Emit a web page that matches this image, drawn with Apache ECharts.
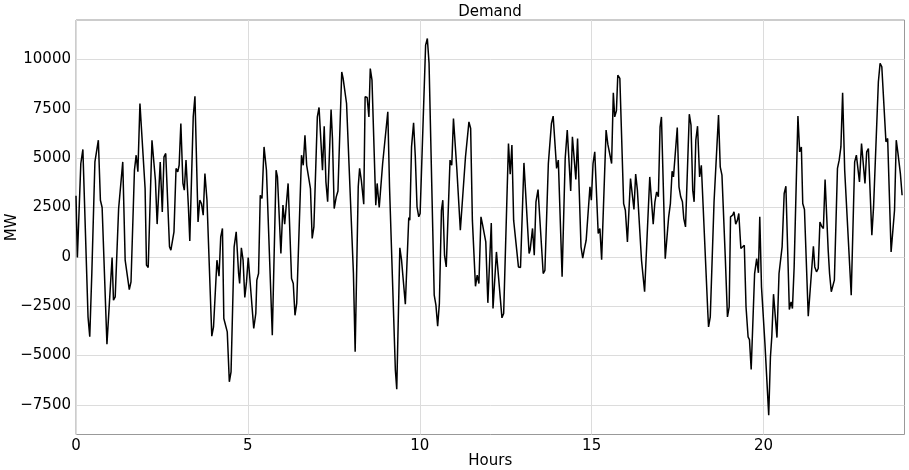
<!DOCTYPE html>
<html>
<head>
<meta charset="utf-8">
<script src="https://cdn.jsdelivr.net/npm/echarts@6/dist/echarts.min.js"></script>
<style>html,body{margin:0;padding:0;background:#fff}#c{width:909px;height:470px}</style>
</head>
<body>
<div id="c"></div>
<script>
const hours = [
0.00,0.04,0.14,0.20,0.35,0.40,0.46,0.55,0.65,0.71,
0.76,0.90,1.05,1.09,1.14,1.24,1.36,1.43,1.55,1.60,
1.70,1.75,1.80,1.86,2.01,2.05,2.10,2.21,2.31,2.36,
2.45,2.51,2.56,2.61,2.72,2.76,2.85,2.91,2.96,3.00,
3.05,3.11,3.15,3.20,3.27,3.31,3.41,3.46,3.55,3.60,
3.65,3.70,3.75,3.81,3.86,3.95,4.00,4.10,4.16,4.21,
4.26,4.30,4.35,4.40,4.46,4.51,4.60,4.66,4.73,4.76,
4.81,4.86,4.91,4.96,5.01,5.17,5.23,5.26,5.31,5.36,
5.41,5.47,5.54,5.71,5.82,5.86,5.96,6.02,6.07,6.17,
6.27,6.32,6.37,6.42,6.56,6.61,6.66,6.71,6.82,6.87,
6.92,7.02,7.07,7.17,7.22,7.27,7.32,7.42,7.46,7.51,
7.57,7.62,7.73,7.77,7.87,8.07,8.12,8.21,8.25,8.30,
8.37,8.41,8.47,8.52,8.56,8.61,8.72,8.76,8.82,8.92,
8.97,9.07,9.12,9.29,9.33,9.42,9.47,9.58,9.68,9.71,
9.76,9.82,9.87,9.92,9.97,10.01,10.17,10.22,10.27,10.42,
10.47,10.52,10.57,10.63,10.67,10.72,10.77,10.88,10.93,10.98,
11.08,11.18,11.33,11.43,11.48,11.53,11.62,11.67,11.72,11.78,
11.83,11.92,11.98,12.08,12.13,12.23,12.39,12.44,12.58,12.63,
12.68,12.73,12.78,12.87,12.93,13.03,13.08,13.18,13.21,13.28,
13.33,13.38,13.44,13.59,13.64,13.74,13.83,13.88,13.98,14.03,
14.14,14.23,14.29,14.39,14.44,14.54,14.59,14.69,14.74,14.79,
14.84,14.95,14.99,15.04,15.09,15.19,15.24,15.29,15.34,15.42,
15.47,15.52,15.58,15.63,15.67,15.72,15.76,15.82,15.93,15.98,
16.04,16.13,16.23,16.28,16.33,16.45,16.54,16.69,16.79,16.84,
16.89,16.94,16.99,17.03,17.14,17.24,17.29,17.34,17.38,17.49,
17.54,17.59,17.64,17.68,17.73,17.84,17.89,17.94,17.98,18.03,
18.08,18.14,18.19,18.38,18.40,18.45,18.56,18.69,18.74,18.79,
18.89,18.95,19.00,19.04,19.10,19.14,19.19,19.24,19.28,19.34,
19.39,19.44,19.49,19.55,19.59,19.64,19.74,19.80,19.85,19.89,
19.94,20.04,20.15,20.20,20.24,20.29,20.39,20.45,20.54,20.60,
20.65,20.75,20.80,20.84,20.89,21.00,21.05,21.10,21.14,21.19,
21.30,21.35,21.45,21.49,21.54,21.59,21.64,21.69,21.74,21.79,
21.88,21.92,21.97,22.01,22.06,22.15,22.20,22.25,22.30,22.36,
22.55,22.65,22.70,22.74,22.79,22.85,22.95,23.00,23.05,23.15,
23.20,23.25,23.34,23.39,23.44,23.56,23.61,23.71,23.81,23.86,
23.91,23.98,24.03
];
const demand = [
3100,-30,4730,5440,-3040,-4050,-845,4810,5910,2870,
2500,-4430,-30,-2200,-2030,2450,4810,-170,-1660,-1270,
4390,5150,4310,7770,3460,-420,-540,5910,3880,1660,
4810,2280,5070,5240,510,340,1270,4480,4310,4640,
6760,3720,3380,4900,2530,810,7090,8140,1770,2870,
2700,2110,4220,2870,2790,-4020,-3550,-170,-980,1010,
1440,-3120,-3180,-3800,-6330,-5830,510,1270,-845,-1350,
460,-170,-2060,-1270,-30,-3630,-2870,-1180,-845,3120,
2960,5570,4390,-3970,4390,4050,170,2620,1660,3720,
-1100,-1350,-2960,-2360,5150,4640,6160,4640,3460,930,
1520,7090,7570,4390,6620,3800,2790,7470,6000,2450,
3040,3340,9370,9040,7770,-845,-4810,3550,4480,3880,
2670,8110,8070,7090,9540,8950,2620,3720,2500,4730,
4810,7350,3550,-5740,-6710,460,-170,-2400,1990,1860,
5570,6790,5070,2530,2030,2200,10730,11060,9800,-1940,
-2450,-3510,-2360,2360,2870,80,-510,4900,4640,7010,
4390,1350,5070,6840,6500,1860,-1490,-930,-1350,2030,
1600,760,-2330,1720,-2620,250,-3090,-2870,5740,4190,
5660,1860,1890,-510,-540,4760,4700,170,340,1440,
80,2790,3410,-845,-680,4730,6760,7130,4480,4900,
-1010,4980,6420,3340,6080,3920,6000,510,-70,420,
840,3550,2870,4730,5320,1180,1440,-140,-170,6420,
5710,5660,4730,8310,7090,7400,9200,9040,2700,2360,
760,3970,2400,4190,3380,-170,-1770,4050,1660,2790,
3290,3040,6590,7090,-90,2030,2700,4340,4050,6550,
3550,3040,2790,1940,1520,7230,6670,3380,2790,5910,
6620,4050,4640,-2870,-3550,-3040,2790,7180,4560,4140,
-170,-3040,-2530,2030,2110,2280,1660,1860,2200,420,
370,590,-2530,-4050,-4190,-5710,-845,-90,-810,2030,
-1520,-4390,-8020,-5070,-4050,-1890,-4090,-845,510,3210,
3580,-2670,-2280,-2620,-510,7130,5320,5570,2700,2400,
-3010,-2960,540,-510,-760,-590,1770,1550,1440,3920,
340,-845,-1770,-1860,-1180,4480,4900,5570,8310,4390,
-1940,4810,5150,5070,3800,5740,3720,5320,5490,1100,
2530,2620,8870,9800,9630,5830,6000,250,2360,5910,
5240,4220,3120
];
const xTicks = [0, 5, 10, 15, 20];
const yTicks = [-7500, -5000, -2500, 0, 2500, 5000, 7500, 10000];
const titleText = 'Demand';
const xName = 'Hours';
const yName = 'MW';

const font = 'DejaVu Sans';
const chart = echarts.init(document.getElementById('c'), null, {renderer: 'canvas'});
const seriesData = hours.map((h, i) => [h, demand[i]]);
const labelStyle = {fontFamily: font, fontSize: 15, color: '#000'};
const fmt = v => String(v).replace('-', '\u2212');
chart.setOption({
  animation: false,
  backgroundColor: '#fff',
  title: {
    text: titleText, left: 490, top: 5, padding: 0, textAlign: 'center',
    textStyle: {fontFamily: font, fontSize: 15, fontWeight: 'normal', color: '#000'}
  },
  grid: {left: 76, right: 4.5, top: 20, bottom: 35.5, show: true, borderColor: '#999', borderWidth: 1,
         containLabel: false, outerBoundsMode: 'none'},
  xAxis: {
    type: 'value', min: 0, max: 24.1,
    name: xName, nameLocation: 'middle', nameGap: 19, nameMoveOverlap: false,
    nameTextStyle: labelStyle,
    axisLine: {show: false},
    axisTick: {show: false, customValues: xTicks},
    axisLabel: Object.assign({customValues: xTicks, margin: 4, formatter: fmt}, labelStyle),
    splitLine: {show: true, lineStyle: {color: '#dcdcdc', width: 1}}
  },
  yAxis: {
    type: 'value', min: -9000, max: 12000,
    name: yName, nameLocation: 'middle', nameGap: 56, nameMoveOverlap: false,
    nameTextStyle: labelStyle,
    axisLine: {show: false},
    axisTick: {show: false, customValues: yTicks},
    axisLabel: Object.assign({customValues: yTicks, margin: 5, formatter: fmt}, labelStyle),
    splitLine: {show: true, lineStyle: {color: '#dcdcdc', width: 1}}
  },
  series: [{
    type: 'line', data: seriesData, showSymbol: false, symbol: 'none',
    lineStyle: {color: '#000', width: 1.5}, clip: true
  }]
});
</script>
</body>
</html>
